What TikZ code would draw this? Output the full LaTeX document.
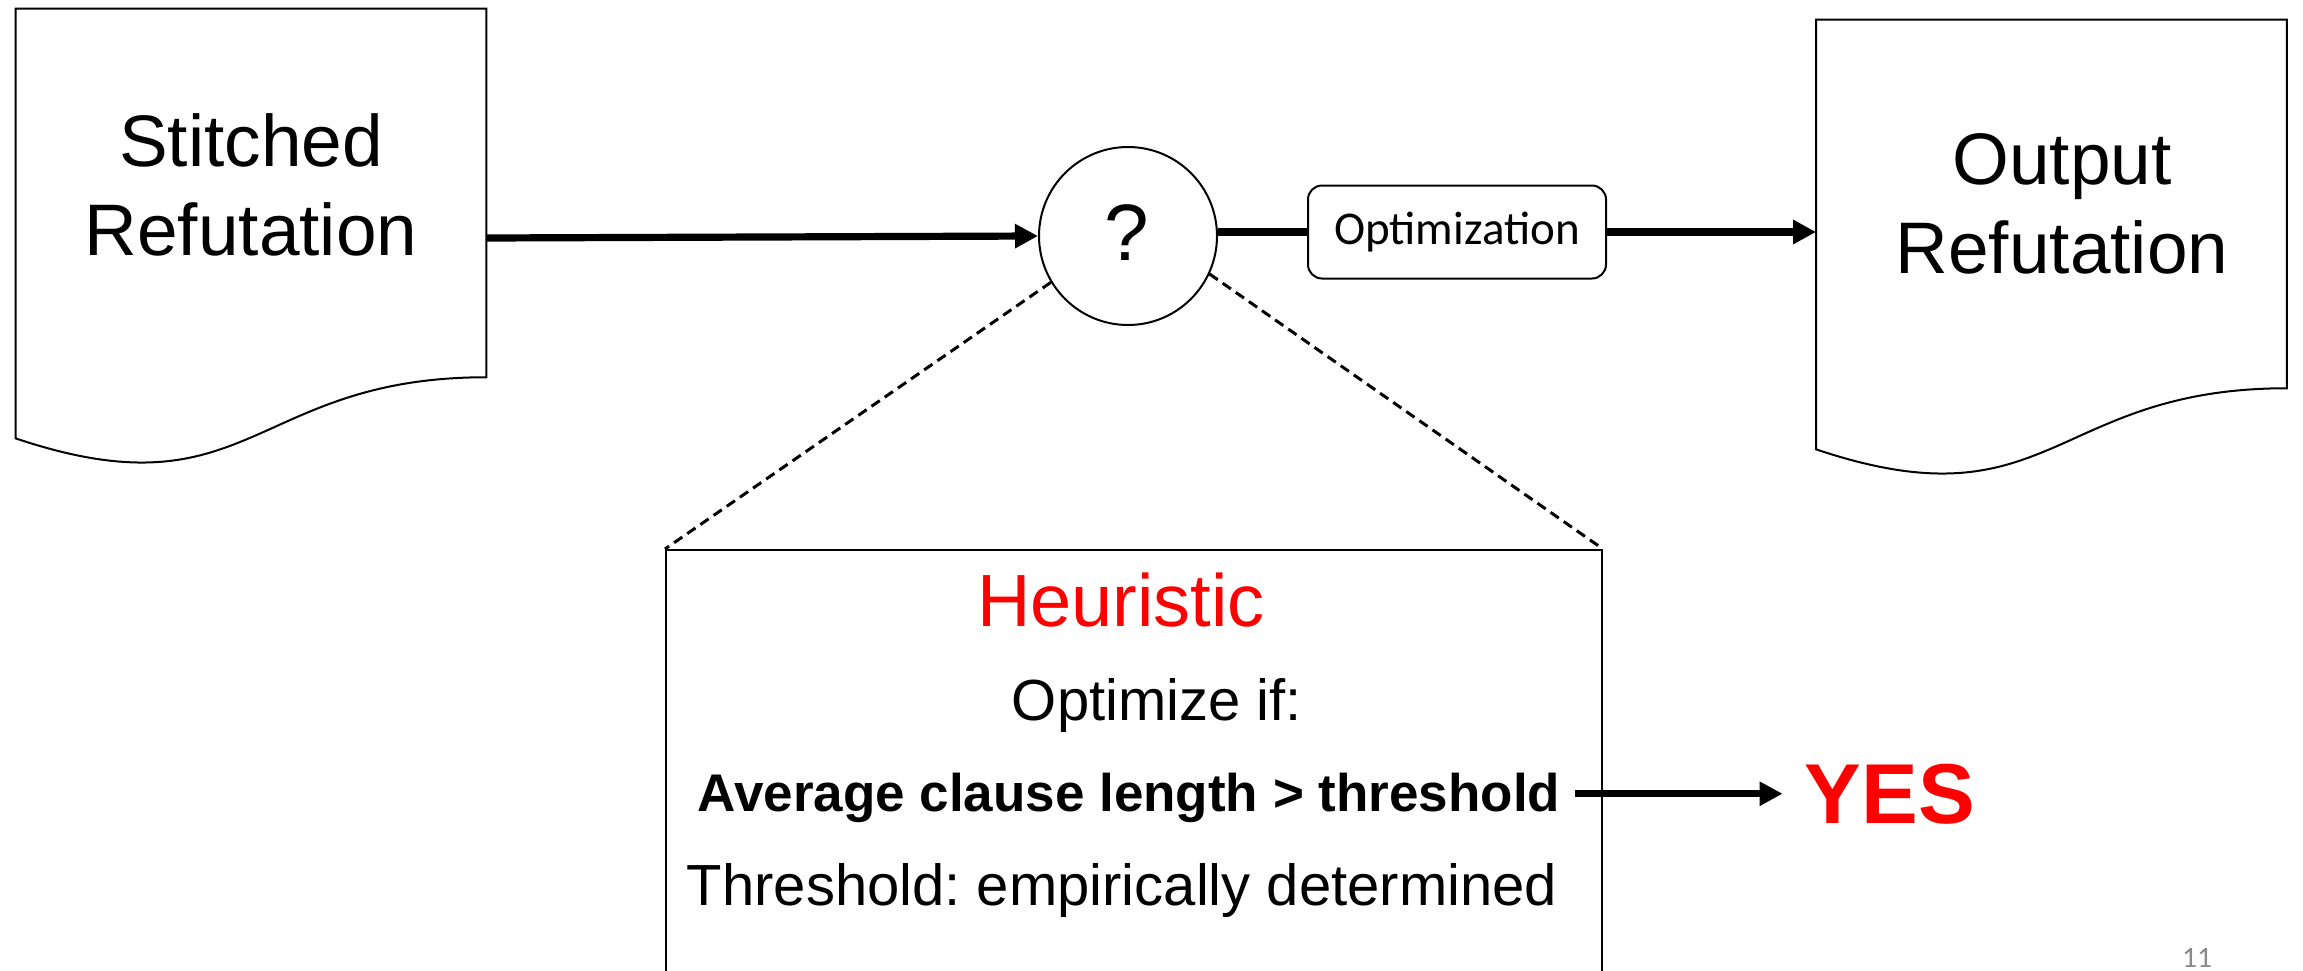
\documentclass[tikz,border=0pt]{standalone}
\usepackage{fontspec}
\setmainfont{Liberation Sans}
\newfontfamily\calib{Carlito}
\usetikzlibrary{arrows.meta,calc}
\definecolor{pgnum}{HTML}{898989}
\definecolor{hred}{HTML}{FF0000}
\frenchspacing
\newcommand\drawdoc[1]{%
  \draw[docline] (#1.north west) -- (#1.north east)
    -- ($(#1.north east)!0.8035!(#1.south east)$)
    .. controls ($(#1.north)!0.8035!(#1.south)$) and ($(#1.north)!1.109!(#1.south)$)
    .. ($(#1.north west)!0.9367!(#1.south west)$) -- cycle;}
\begin{document}
\begin{tikzpicture}[x=0.5pt,y=-0.5pt,
  docline/.style={draw=black,line width=1pt},
  docarea/.style={minimum width=235pt,minimum height=229pt,inner sep=0pt},
  doctext/.style={font=\fontsize{36.5pt}{44.5pt}\selectfont,align=center,inner sep=0pt,anchor=base},
  flow/.style={line width=3.6pt,-{Triangle[length=11.5pt,width=11.5pt]}},
  flowplain/.style={line width=3.6pt},
  zoomline/.style={line width=1.5pt,dash pattern=on 5pt off 3pt},
  txt/.style={inner sep=0pt,anchor=base},
]
\useasboundingbox (0,0) rectangle (2303,970);
\clip (0,0) rectangle (2303,970);

% documents
\node[docarea] (sr) at (251,238) {};
\drawdoc{sr}
\node[doctext] (srt) at (251,255) {Stitched\\Refutation};

\node[docarea] (od) at (2051.5,249) {};
\drawdoc{od}
\node[doctext] (odt) at (2062,273) {Output\\Refutation};

% decision circle
\node[circle,draw,line width=1pt,minimum size=89pt,inner sep=0pt] (q) at (1128,236) {};
\node[txt,font=\fontsize{40pt}{48pt}\selectfont] (qt) at (1127,260) {?};

% optimization box
\node[draw,line width=1pt,rounded corners=7pt,minimum width=149pt,minimum height=46.5pt,inner sep=0pt,
      font=\calib\fontsize{23.5pt}{28pt}\selectfont] (opt) at (1457,232) {Optimization};

% heuristic box
\node[draw,line width=1pt,minimum width=468pt,minimum height=225pt,inner sep=0pt] (hb) at (1134,775) {};
\node[txt,text=hred,font=\fontsize{37pt}{44pt}\selectfont] (heur) at (1121,626) {Heuristic};
\node[txt,font=\fontsize{29pt}{35pt}\selectfont] (optif) at (1157,720) {Optimize if:};
\node[txt,font=\bfseries\fontsize{26.5pt}{32pt}\selectfont] (avg) at (1129,811) {Average clause length > threshold};
\node[txt,font=\fontsize{29pt}{35pt}\selectfont] (thr) at (1122,905) {Threshold: empirically determined};
\node[txt,text=hred,font=\bfseries\fontsize{42.5pt}{50pt}\selectfont] (yes) at (1890,823) {YES};

% page number
\node[txt,text=pgnum,font=\calib\fontsize{14.8pt}{18pt}\selectfont] (pg) at (2197,967) {11};

% connectors
\draw[flow] (sr.east) -- (q.west);
\draw[flowplain] (q.east |- opt.west) -- (opt.west);
\draw[flow] (opt.east) -- (opt.east -| od.west);
\draw[zoomline] (q.211) -- (hb.north west);
\draw[zoomline] (q.335) -- (hb.north east);
\draw[flow] ($(avg.east |- yes.west)+(14,0)$) -- ($(yes.west)+(-22,0)$);
\end{tikzpicture}
\end{document}
